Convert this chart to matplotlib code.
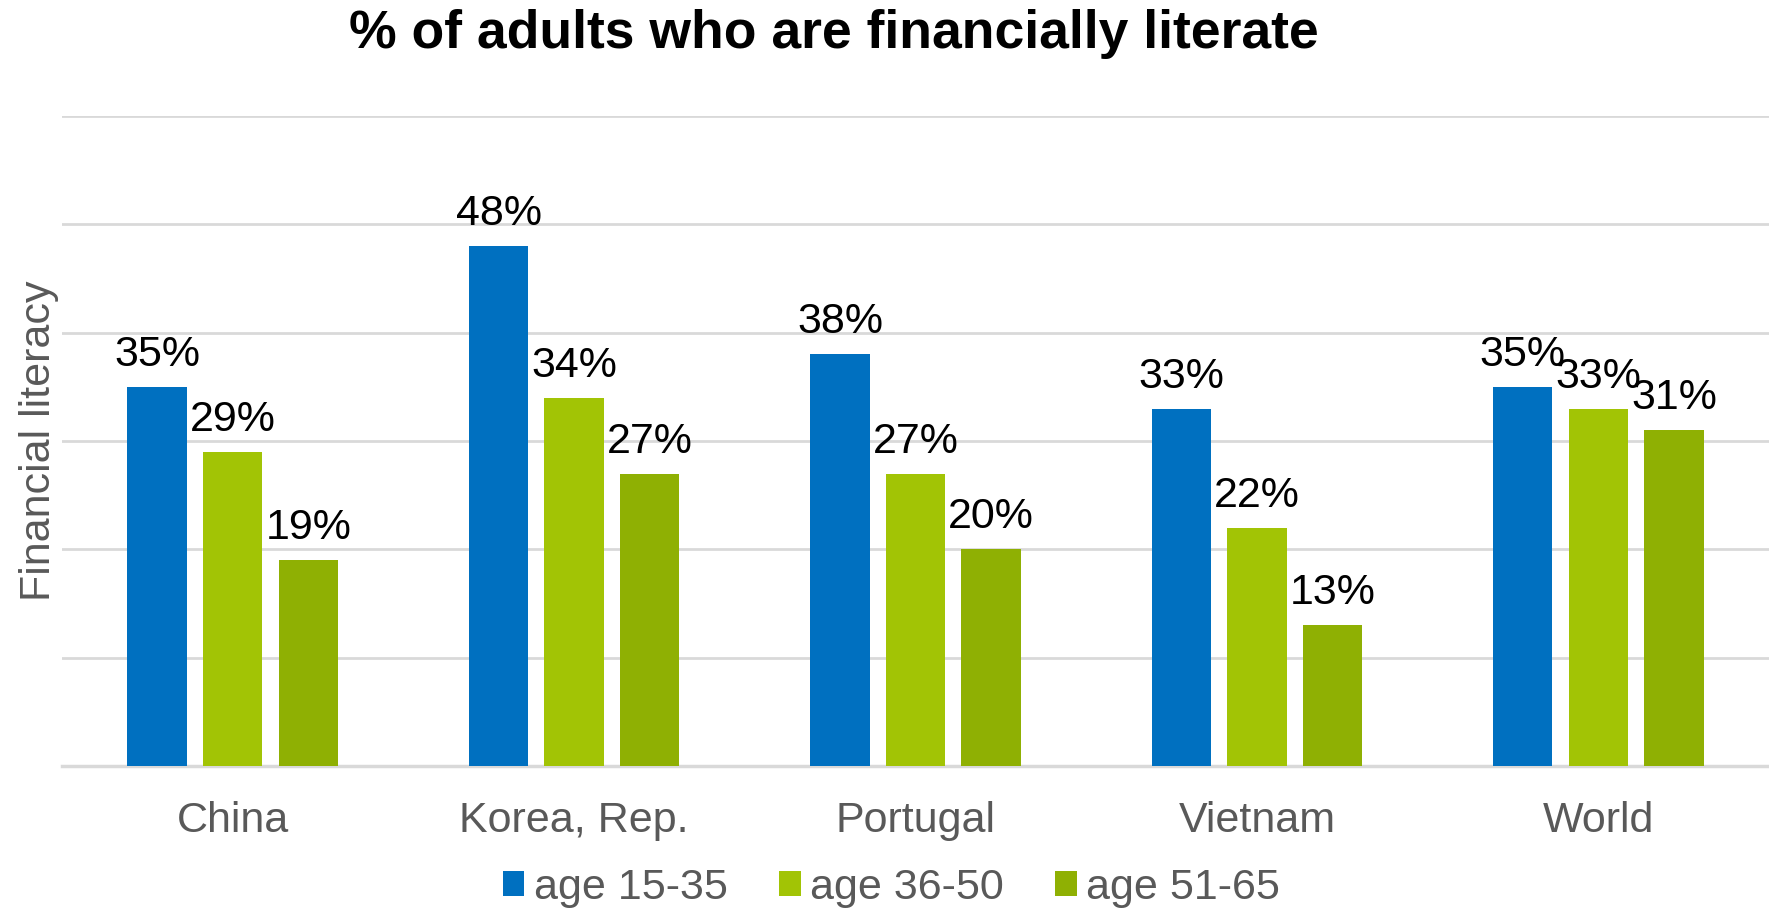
import numpy as np
import matplotlib.pyplot as plt

plt.rcParams['font.family'] = ['Liberation Sans', 'DejaVu Sans']

# Share of adults who are financially literate, by age band
countries = ['China', 'Korea, Rep.', 'Portugal', 'Vietnam', 'World']
age_15_35 = [35, 48, 38, 33, 35]
age_36_50 = [29, 34, 27, 22, 33]
age_51_65 = [19, 27, 20, 13, 31]
series_names = ['age 15-35', 'age 36-50', 'age 51-65']
colors = ['#0070C0', '#A2C405', '#8FB003']

fig = plt.figure(figsize=(17.69, 9.10), dpi=100)
ax = fig.add_axes([62 / 1769, 1 - 766 / 910, 1 - 62 / 1769, (766 - 116) / 910])

x = np.arange(len(countries))
step = 0.2214
width = 0.174
grid_col = '#D9D9D9'
text_gray = '#595959'

for i, (vals, name, col) in enumerate(zip([age_15_35, age_36_50, age_51_65],
                                           series_names, colors)):
    pos = x + (i - 1) * step
    bars = ax.bar(pos, vals, width=width, color=col, label=name, zorder=3)
    for b, v in zip(bars, vals):
        ax.annotate(f'{v}%', (b.get_x() + b.get_width() / 2, v),
                    xytext=(0, 15), textcoords='offset points',
                    ha='center', va='baseline', fontsize=31, color='black',
                    zorder=4)

ax.set_xlim(-0.5, len(countries) - 0.5)
ax.set_ylim(0, 60)
ax.set_yticks(np.arange(0, 61, 10))
ax.set_yticklabels([])
ax.yaxis.grid(True, color=grid_col, linewidth=2, zorder=0)
ax.set_axisbelow(True)
for s in ['top', 'right', 'left']:
    ax.spines[s].set_visible(False)
ax.spines['bottom'].set_color(grid_col)
ax.spines['bottom'].set_linewidth(2.5)
ax.tick_params(axis='both', length=0)
ax.set_xticks(x)
ax.set_xticklabels(countries, fontsize=31, color=text_gray)
ax.tick_params(axis='x', pad=25)

fig.text(39 / 1769, 1 - 441 / 910, 'Financial literacy', rotation=90,
         ha='center', va='center', fontsize=31, color=text_gray)
fig.text(834 / 1769, 1 - 34 / 910, '% of adults who are financially literate',
         ha='center', va='center', fontsize=38.5, fontweight='bold', color='black')

fig.legend(loc='center', bbox_to_anchor=(891 / 1769, 1 - 888 / 910), ncol=3,
           frameon=False, fontsize=31, handlelength=0.51, handleheight=0.51,
           handletextpad=0.21, columnspacing=1.19, labelcolor=text_gray,
           borderpad=0, borderaxespad=0)

fig.savefig('out.png', dpi=100)
